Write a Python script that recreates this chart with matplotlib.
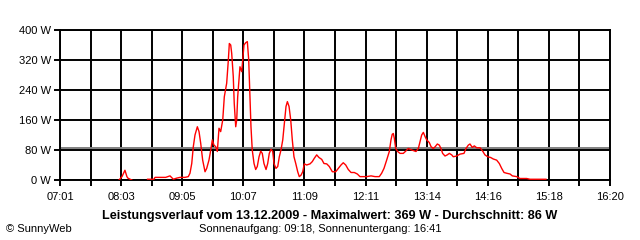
"""Leistungsverlauf (SunnyWeb style) - daily PV power curve."""
import numpy as np
import matplotlib
matplotlib.use("Agg")
import matplotlib.pyplot as plt

# time of day in minutes since midnight, power in W (NaN = no data)
t_min = [
    481, 484, 487, 489, 490, 493, 494, 500,
    510, 516.5, 517.6, 528.4, 532.8, 536.2, 539.6, 543, 548, 551.4,
    553.1, 554.9, 556.5, 558.2, 560.6, 562.3, 564.0, 566.0, 568.4, 570.1,
    572.4, 574.5, 575.8, 577.5, 579.2, 580.9, 582.6, 584.3, 586.4, 588.0,
    590.4, 592.1, 593.1, 594.5, 595.5, 597.1, 598.1, 599.6, 600.6, 601.6,
    602.9, 603.9, 605.7, 606.7, 608.0, 609.7, 611.4, 612.8, 614.1, 615.1,
    616.4, 618.2, 619.9, 621.5, 623.3, 625.0, 626.6, 628.3, 630.4, 632.1,
    633.7, 635.5, 637.2, 638.5, 640.5, 642.3, 643.9, 645.6, 647.4, 649.0,
    650.7, 652.1, 653.8, 655.5, 657.1, 658.8, 660.6, 662.6, 664.2, 666.0,
    667.7, 669.3, 671.7, 675.1, 677.4, 679.5, 681.9, 684.2, 687.0, 689.3,
    692.1, 694.7, 697.8, 701.2, 703.9, 706.6, 708.9, 711.4, 714.0, 716.8,
    720.1, 723.2, 725.9, 732.7, 737.1, 741.2, 745.5, 747.9, 750.3, 753.0,
    755.7, 757.4, 758.7, 759.8, 760.8, 762.2, 764.2, 766.6, 769.9, 772.4,
    775.0, 778.5, 782.8, 785.2, 786.9, 788.6, 790.3, 792.0, 793.7, 796.3,
    798.1, 800.4, 802.4, 804.5, 806.5, 808.2, 809.9, 812.3, 814.6, 816.7,
    819.1, 820.7, 824.2, 827.5, 831.6, 833.6, 836.0, 837.7, 840.0, 842.1,
    844.5, 847.9, 850.6, 852.9, 855.7, 858.7, 861.4, 864.8, 867.5, 869.9,
    872.3, 875.0, 878.4, 880.7, 885.2, 888.5, 895.3, 898.7, 914.9,
]
power_w = [
    0, 9, 26, 9, 5, 1, 0, np.nan,
    2, 2, 7, 7, 11, 2, 5, 7, 7, 9,
    18, 44, 89, 120, 142, 129, 98, 53, 22, 31,
    53, 84, 107, 93, 89, 76, 138, 129, 160, 222,
    258, 320, 364, 360, 338, 276, 204, 142, 160, 222,
    267, 302, 289, 320, 360, 366, 369, 320, 222, 142,
    80, 44, 28, 36, 62, 77, 71, 44, 28, 44,
    71, 82, 76, 44, 31, 36, 62, 80, 107, 151,
    196, 209, 196, 160, 107, 62, 44, 22, 9, 13,
    22, 43, 40, 43, 49, 58, 67, 60, 55, 44,
    43, 36, 22, 22, 31, 40, 46, 40, 28, 20,
    20, 16, 9, 9, 11, 9, 9, 18, 31, 53,
    76, 107, 122, 124, 111, 84, 76, 71, 71, 77,
    84, 80, 76, 84, 102, 120, 127, 116, 107, 100,
    89, 84, 89, 96, 93, 84, 71, 64, 67, 71,
    67, 62, 64, 69, 71, 84, 93, 96, 87, 91,
    86, 86, 77, 67, 62, 60, 56, 53, 44, 31,
    20, 18, 16, 11, 9, 4, 4, 2, 2,
]
average_w = 86

x_labels = ["07:01", "08:03", "09:05", "10:07", "11:09",
            "12:11", "13:14", "14:16", "15:18", "16:20"]
y_values = [0, 80, 160, 240, 320, 400]

title = "Leistungsverlauf vom 13.12.2009 - Maximalwert: 369 W - Durchschnitt: 86 W"
subtitle = "Sonnenaufgang: 09:18, Sonnenuntergang: 16:41"

plt.rcParams["font.family"] = ["Liberation Sans", "DejaVu Sans"]

t_start, t_end = 7 * 60 + 1, 16 * 60 + 20
major = np.linspace(t_start, t_end, len(x_labels))
minor = (major[:-1] + major[1:]) / 2

fig = plt.figure(figsize=(6.4, 2.4), dpi=100)
ax = fig.add_axes([60 / 640, 60 / 240, 550 / 640, 150 / 240])

for x in np.concatenate([major, minor]):
    ax.axvline(x, color="black", lw=1.4, zorder=1)
for y in y_values:
    ax.axhline(y, color="black", lw=1.4, zorder=1)
ax.axhline(average_w, color="#808080", lw=1.4, zorder=2)

ax.plot(t_min, power_w, color="#ff0000", lw=1.0, zorder=3)

ax.set_xlim(t_start, t_end)
ax.set_ylim(0, 400)
ax.set_xticks(major)
ax.set_xticklabels(x_labels, fontsize=8)
ax.set_xticks(minor, minor=True)
ax.set_yticks(y_values)
ax.set_yticklabels([f"{v} W" for v in y_values], fontsize=8)
ax.tick_params(axis="x", which="both", length=4, width=1.4, pad=5)
ax.tick_params(axis="y", length=4.5, width=1.4, pad=2)
for s in ax.spines.values():
    s.set_linewidth(1.4)

fig.text(0.515, 1 - 216 / 240, title, ha="center", va="center",
         fontsize=9.1, fontweight="bold")
fig.text(0.5, 1 - 229 / 240, subtitle, ha="center", va="center", fontsize=8)
fig.text(6 / 640, 1 - 229 / 240, "© SunnyWeb", ha="left", va="center", fontsize=8)

fig.savefig("out.png", dpi=100)
